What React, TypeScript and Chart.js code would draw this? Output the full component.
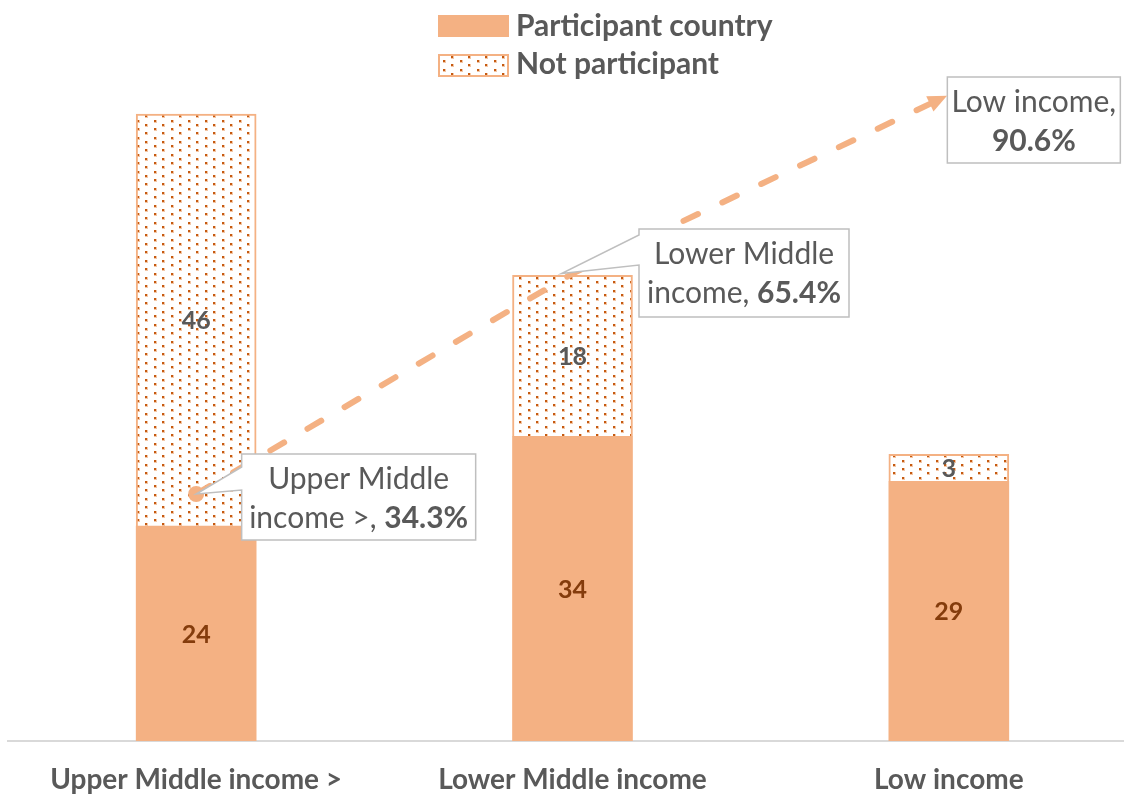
import React, { useEffect, useRef } from 'react';
import { Chart, registerables } from 'chart.js';

Chart.register(...registerables);

// ---------- data ----------
const categories = ['Upper Middle income >', 'Lower Middle income', 'Low income'];
const seriesLabels = ['Participant country', 'Not participant'];
const participant = [24, 34, 29];
const notParticipant = [46, 18, 3];
const participationShare = [34.3, 65.4, 90.6];
const calloutFirstLine = ['Upper Middle', 'Lower Middle', 'Low income,'];
const calloutSecondLine = ['income >, ', 'income, ', ''];

// ---------- style ----------
const FONT = 'Lato, "Open Sans", sans-serif';
const ORANGE = '#F4B183';
const DOT = '#C55A11';
const DOT_HALO = '#F2C6A6';
const TEXT = '#595959';
const BROWN = '#843C0C';

function makePattern(): CanvasPattern | string {
  const c = document.createElement('canvas');
  c.width = 17;
  c.height = 17;
  const g = c.getContext('2d');
  if (!g) return '#fff';
  g.fillStyle = '#ffffff';
  g.fillRect(0, 0, 17, 17);
  const dots = [
    [1, 1],
    [9, 5],
    [1, 9],
    [9, 13],
  ];
  g.fillStyle = DOT_HALO;
  dots.forEach(([x, y]) => g.fillRect(x, y, 3, 3));
  g.fillStyle = DOT;
  dots.forEach(([x, y]) => g.fillRect(x, y, 2, 2));
  const p = g.createPattern(c, 'repeat');
  return p || '#fff';
}

// callout geometry relative to the line point (px)
const calloutBoxes = [
  { dx: 45.5, dy: -40, w: 234, h: 86, wedge: [-27, -4], tip: [0, 0] },
  { dx: 66.5, dy: -44.5, w: 210, h: 88, wedge: [-38.5, -8.5], tip: [-11, 0] },
  { dx: -1.5, dy: -18, w: 173, h: 86, wedge: null as number[] | null, tip: [0, 0] },
];

const CALLOUT_SIZE = 30;

const dataLabelPlugin = {
  id: 'dataLabels',
  afterDatasetsDraw(chart: any) {
    const ctx = chart.ctx;
    [0, 1].forEach((di) => {
      const meta = chart.getDatasetMeta(di);
      const ds = chart.data.datasets[di];
      meta.data.forEach((el: any, i: number) => {
        const v = ds.data[i];
        const y = (el.y + el.base) / 2;
        ctx.save();
        ctx.font = `bold 25px ${FONT}`;
        ctx.fillStyle = di === 0 ? BROWN : TEXT;
        ctx.textAlign = 'center';
        ctx.textBaseline = 'middle';
        ctx.fillText(String(v), el.x, y + 1);
        ctx.restore();
      });
    });
  },
};

const calloutPlugin = {
  id: 'callouts',
  afterDatasetsDraw(chart: any) {
    const ctx = chart.ctx;
    const meta = chart.getDatasetMeta(2);
    const pts = meta.data;
    pts.forEach((pt: any, i: number) => {
      const b = calloutBoxes[i];
      const x0 = pt.x + b.dx;
      const y0 = pt.y + b.dy;
      ctx.save();
      ctx.beginPath();
      ctx.moveTo(x0, y0);
      ctx.lineTo(x0 + b.w, y0);
      ctx.lineTo(x0 + b.w, y0 + b.h);
      ctx.lineTo(x0, y0 + b.h);
      if (b.wedge) {
        ctx.lineTo(x0, pt.y + b.wedge[1]);
        ctx.lineTo(pt.x + b.tip[0], pt.y + b.tip[1]);
        ctx.lineTo(x0, pt.y + b.wedge[0]);
      }
      ctx.closePath();
      ctx.fillStyle = '#ffffff';
      ctx.fill();
      ctx.strokeStyle = '#BFBFBF';
      ctx.lineWidth = 1.5;
      ctx.stroke();

      const cx = x0 + b.w / 2;
      ctx.fillStyle = TEXT;
      ctx.textBaseline = 'alphabetic';
      ctx.textAlign = 'center';
      ctx.font = `${CALLOUT_SIZE}px ${FONT}`;
      ctx.fillText(calloutFirstLine[i], cx, y0 + 35);
      const lead = calloutSecondLine[i];
      const val = `${participationShare[i]}%`;
      ctx.font = `${CALLOUT_SIZE}px ${FONT}`;
      const wl = ctx.measureText(lead).width;
      ctx.font = `bold ${CALLOUT_SIZE}px ${FONT}`;
      const wv = ctx.measureText(val).width;
      const sx = cx - (wl + wv) / 2;
      ctx.textAlign = 'left';
      ctx.font = `${CALLOUT_SIZE}px ${FONT}`;
      ctx.fillText(lead, sx, y0 + 74);
      ctx.font = `bold ${CALLOUT_SIZE}px ${FONT}`;
      ctx.fillText(val, sx + wl, y0 + 74);
      ctx.restore();
    });

    // arrow head at the end of the line
    if (pts.length >= 2) {
      const a = pts[pts.length - 2];
      const e = pts[pts.length - 1];
      let ux = e.x - a.x;
      let uy = e.y - a.y;
      const len = Math.hypot(ux, uy) || 1;
      ux /= len;
      uy /= len;
      const tx = e.x - ux * 2;
      const ty = e.y - uy * 2;
      const L = 19;
      const W = 8.5;
      const bx = tx - ux * L;
      const by = ty - uy * L;
      ctx.save();
      ctx.beginPath();
      ctx.moveTo(tx, ty);
      ctx.lineTo(bx - uy * W, by + ux * W);
      ctx.lineTo(bx + uy * W, by - ux * W);
      ctx.closePath();
      ctx.fillStyle = ORANGE;
      ctx.fill();
      ctx.restore();
    }
  },
};

const legendPlugin = {
  id: 'customLegend',
  afterDraw(chart: any) {
    const ctx = chart.ctx;
    const ds = chart.data.datasets;
    ctx.save();
    // solid box
    ctx.fillStyle = ds[0].backgroundColor;
    ctx.fillRect(438, 15, 71, 22);
    // dotted box
    ctx.fillStyle = ds[1].backgroundColor;
    ctx.fillRect(439, 55, 69, 21);
    ctx.strokeStyle = ORANGE;
    ctx.lineWidth = 2;
    ctx.strokeRect(439, 55, 69, 21);
    ctx.fillStyle = TEXT;
    ctx.font = `bold 30px ${FONT}`;
    ctx.textAlign = 'left';
    ctx.textBaseline = 'alphabetic';
    ctx.fillText(ds[0].label, 516, 36);
    ctx.fillText(ds[1].label, 516, 74);
    ctx.restore();
  },
};

export default function App() {
  const ref = useRef<HTMLCanvasElement | null>(null);

  useEffect(() => {
    if (!ref.current) return;
    const pattern = makePattern();
    const chart = new Chart(ref.current, {
      type: 'bar',
      data: {
        labels: categories,
        datasets: [
          {
            type: 'bar',
            label: seriesLabels[0],
            data: participant,
            backgroundColor: ORANGE,
            borderWidth: 0,
            barThickness: 120,
            stack: 's',
            order: 1,
          } as any,
          {
            type: 'bar',
            label: seriesLabels[1],
            data: notParticipant,
            backgroundColor: pattern,
            borderColor: ORANGE,
            borderWidth: 2,
            barThickness: 120,
            stack: 's',
            order: 1,
          } as any,
          {
            type: 'line',
            label: 'Participation share',
            data: participationShare,
            yAxisID: 'y1',
            borderColor: ORANGE,
            borderWidth: 6,
            borderDash: [16, 27],
            borderCapStyle: 'round',
            tension: 0,
            fill: false,
            pointRadius: [8, 0, 0],
            pointHoverRadius: [8, 0, 0],
            pointBackgroundColor: ORANGE,
            pointBorderWidth: 0,
            order: 0,
          } as any,
        ],
      },
      options: {
        animation: false,
        responsive: true,
        maintainAspectRatio: false,
        layout: { padding: { left: 5, right: 0, top: 24.4, bottom: 0 } },
        plugins: {
          legend: { display: false },
          tooltip: { enabled: false },
        },
        scales: {
          x: {
            stacked: true,
            offset: true,
            grid: { display: false, drawTicks: false },
            border: { display: true, color: '#D9D9D9', width: 2 },
            ticks: {
              color: TEXT,
              font: { family: FONT, size: 28, weight: 'bold', lineHeight: 1.2 },
              padding: 22,
              maxRotation: 0,
              autoSkip: false,
            },
            afterFit: (scale: any) => {
              scale.height = 54;
            },
          },
          y: { stacked: true, display: false, min: 0, max: 80 },
          y1: { display: false, min: -0.55, max: 100.55 },
        },
      } as any,
      plugins: [dataLabelPlugin, calloutPlugin, legendPlugin],
    });
    return () => chart.destroy();
  }, []);

  return (
    <div
      style={{
        position: 'fixed',
        left: 0,
        top: 0,
        width: 1124,
        height: 795,
        overflow: 'hidden',
        background: '#ffffff',
      }}
    >
      <div style={{ position: 'relative', width: 1145, height: 795 }}>
        <canvas ref={ref} />
      </div>
    </div>
  );
}
